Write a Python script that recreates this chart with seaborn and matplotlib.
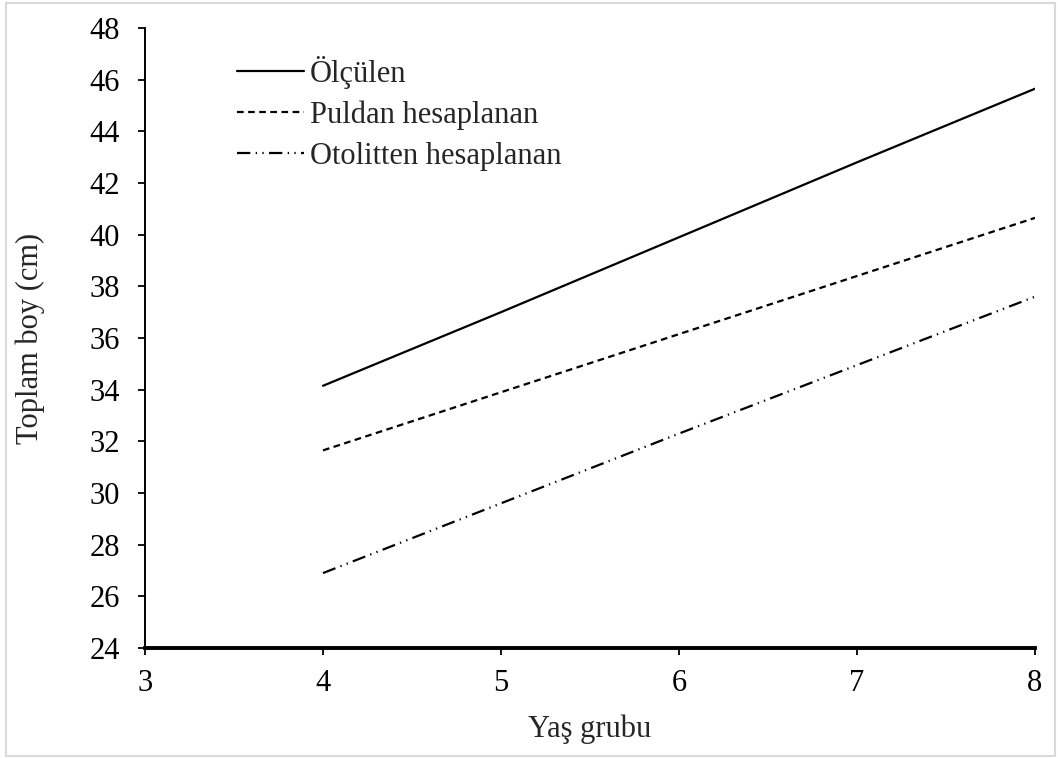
import matplotlib
matplotlib.use("Agg")
import matplotlib.pyplot as plt
import seaborn as sns
import pandas as pd
from matplotlib.patches import Rectangle

ages = [4, 5, 6, 7, 8]
olculen = [34.15, 37.0, 39.9, 42.8, 45.65]
puldan = [31.65, 33.9, 36.15, 38.4, 40.65]
otolitten = [26.9, 29.6, 32.3, 34.95, 37.6]
series_names = ["Ölçülen", "Puldan hesaplanan", "Otolitten hesaplanan"]
x_ticks = [3, 4, 5, 6, 7, 8]
y_ticks = list(range(24, 49, 2))

rows = []
for name, vals in zip(series_names, [olculen, puldan, otolitten]):
    for a, v in zip(ages, vals):
        rows.append({"age": a, "len": v, "series": name})
df = pd.DataFrame(rows)

sns.set_style("white")
plt.rcParams["font.family"] = ["Liberation Serif", "DejaVu Serif"]
FS = 22

fig = plt.figure(figsize=(10.58, 7.58), dpi=100)
ax = fig.add_axes([145/1058, 1-648/758, 890/1058, 620/758])

dashes = {
    series_names[0]: "",
    series_names[1]: (3, 2),
    series_names[2]: (6, 2.4, 0.6, 2.4, 0.6, 2.4),
}
sns.lineplot(data=df, x="age", y="len", hue="series", style="series",
             hue_order=series_names, style_order=series_names,
             palette=["black"] * 3, dashes=dashes, linewidth=1.6,
             markers=False, ax=ax)

ax.set_xlim(3, 8)
ax.set_ylim(24, 48)
ax.set_xticks(x_ticks)
ax.set_yticks(y_ticks)
ax.tick_params(axis="both", labelsize=FS, colors="black", direction="out",
               length=5, width=1.3, pad=10, bottom=True, left=True)
ax.tick_params(axis="y", pad=13)
for s in ["top", "right"]:
    ax.spines[s].set_visible(False)
ax.spines["left"].set_linewidth(1.4)
ax.spines["left"].set_color("black")
ax.spines["bottom"].set_linewidth(2.8)
ax.spines["bottom"].set_color("black")

ax.set_xlabel("Yaş grubu", fontsize=FS)
ax.set_ylabel("Toplam boy (cm)", fontsize=FS)
ax.xaxis.set_label_coords(0.5, -0.108)
ax.yaxis.set_label_coords(-0.112, 0.5)

handles, labels = ax.get_legend_handles_labels()
ax.legend(handles, labels, loc="upper left", bbox_to_anchor=(0.103, 0.955),
          frameon=False, fontsize=FS, handlelength=2.2, handletextpad=0.2,
          labelspacing=0.38, borderaxespad=0, borderpad=0)

fig.add_artist(Rectangle((6/1058, 2/758), 1049/1058, 753/758,
                         transform=fig.transFigure, fill=False,
                         edgecolor="#d9d9d9", linewidth=1.5))

fig.savefig("out.png", dpi=100)
